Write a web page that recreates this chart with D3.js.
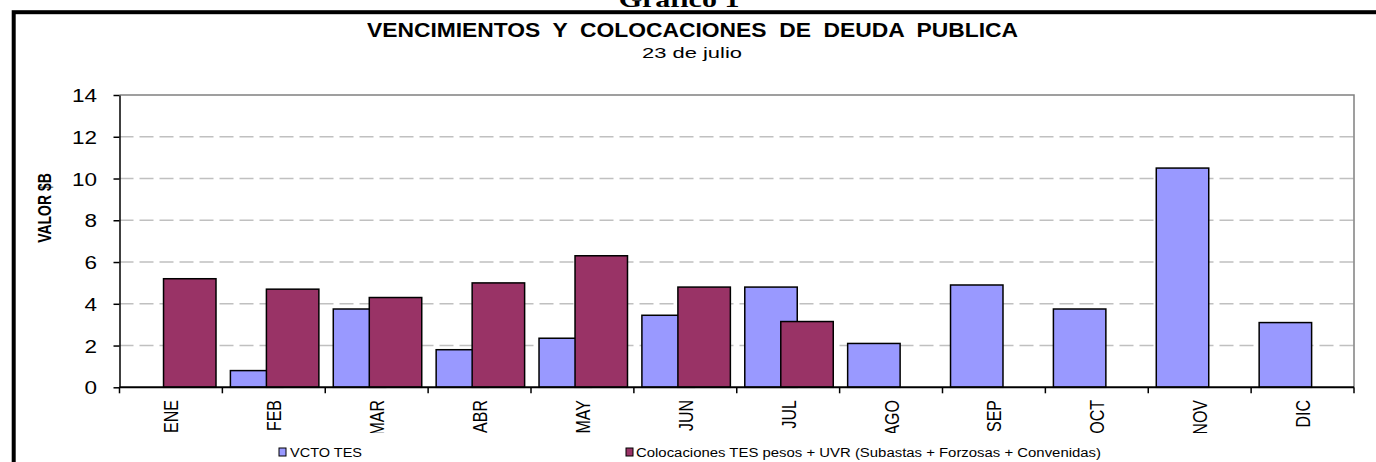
<!DOCTYPE html>
<html>
<head>
<meta charset="utf-8">
<script src="https://cdn.jsdelivr.net/npm/d3@7"></script>
<style>
  html, body { margin: 0; padding: 0; background: #fff; }
  svg { display: block; font-family: "Liberation Sans", Arial, sans-serif; }
</style>
</head>
<body>
<svg id="chart" width="1376" height="462"></svg>
<script>
// Monthly public-debt maturities and placements (billions of pesos)
const months = ["ENE", "FEB", "MAR", "ABR", "MAY", "JUN", "JUL", "AGO", "SEP", "OCT", "NOV", "DIC"];
const vctoTes = [null, 0.8, 3.75, 1.8, 2.35, 3.45, 4.8, 2.1, 4.9, 3.75, 10.5, 3.1];
const colocaciones = [5.2, 4.7, 4.3, 5.0, 6.3, 4.8, 3.15, null, null, null, null, null];
const yTicks = [0, 2, 4, 6, 8, 10, 12, 14];
const seriesNames = ["VCTO TES", "Colocaciones TES pesos + UVR (Subastas + Forzosas + Convenidas)"];

const svg = d3.select("#chart");
const plot = { left: 119.5, right: 1354, top: 95, bottom: 387.3 };
const sx = 1.27; // horizontal stretch of the lettering

const x = d3.scaleBand().domain(months).range([plot.left, plot.right]).paddingInner(0).paddingOuter(0);
const y = d3.scaleLinear().domain([0, 14]).range([plot.bottom, plot.top]);
const bw = x.bandwidth();
const barW = bw * 0.51;

// outer frame
svg.append("rect")
  .attr("x", 13.7).attr("y", 12.2)
  .attr("width", 1400).attr("height", 500)
  .attr("fill", "none").attr("stroke", "#000").attr("stroke-width", 4);

// figure caption above the frame
svg.append("text")
  .attr("transform", `translate(679,6.5) scale(1.25,1)`)
  .attr("text-anchor", "middle")
  .style("font-family", "'Liberation Serif', 'Times New Roman', serif")
  .style("font-weight", "bold")
  .style("font-size", "24px")
  .text("Gráfico 1");

// titles
svg.append("text")
  .attr("x", 367).attr("y", 37)
  .attr("textLength", 651).attr("lengthAdjust", "spacingAndGlyphs")
  .style("white-space", "pre")
  .style("font-weight", "bold").style("font-size", "20px")
  .text("VENCIMIENTOS  Y  COLOCACIONES  DE  DEUDA  PUBLICA");
svg.append("text")
  .attr("x", 642).attr("y", 57.5)
  .attr("textLength", 100).attr("lengthAdjust", "spacingAndGlyphs")
  .style("font-size", "15.5px")
  .text("23 de julio");

// dashed gridlines
svg.append("g").selectAll("line")
  .data(yTicks.filter(t => t > 0 && t < 14))
  .join("line")
  .attr("x1", plot.left).attr("x2", plot.right)
  .attr("y1", d => y(d)).attr("y2", d => y(d))
  .attr("stroke", "#c0c0c0").attr("stroke-width", 1.5)
  .attr("stroke-dasharray", "14,6");

// plot-area border (top and right)
svg.append("path")
  .attr("d", `M${plot.left},${y(14)}H${plot.right}V${plot.bottom}`)
  .attr("fill", "none").attr("stroke", "#808080").attr("stroke-width", 1.5);

// bars: maturities first, placements drawn over them
svg.append("g").selectAll("rect")
  .data(months.map((m, i) => ({ m, v: vctoTes[i] })).filter(d => d.v != null))
  .join("rect")
  .attr("x", d => x(d.m) + bw * 0.078)
  .attr("y", d => y(d.v))
  .attr("width", barW)
  .attr("height", d => y(0) - y(d.v))
  .attr("fill", "#9999ff").attr("stroke", "#000").attr("stroke-width", 1.5);

svg.append("g").selectAll("rect")
  .data(months.map((m, i) => ({ m, v: colocaciones[i] })).filter(d => d.v != null))
  .join("rect")
  .attr("x", d => x(d.m) + bw * 0.428)
  .attr("y", d => y(d.v))
  .attr("width", barW)
  .attr("height", d => y(0) - y(d.v))
  .attr("fill", "#993366").attr("stroke", "#000").attr("stroke-width", 1.5);

// y axis
const yAxis = svg.append("g")
  .attr("transform", `translate(${plot.left},0)`)
  .call(d3.axisLeft(y).tickValues(yTicks).tickSize(6).tickSizeOuter(0).tickFormat(d3.format("d")));
yAxis.select(".domain").attr("stroke", "#000").attr("stroke-width", 1.5);
yAxis.selectAll(".tick line").attr("stroke", "#000").attr("stroke-width", 1.5);
yAxis.selectAll(".tick text")
  .attr("x", null).attr("dy", null)
  .attr("transform", `translate(-22.5,0) scale(1.25,1)`)
  .attr("dy", "0.36em")
  .attr("fill", "#000")
  .style("font-size", "18px").style("font-family", "'Liberation Sans', Arial, sans-serif");

// y axis title
svg.append("text")
  .attr("transform", `translate(45,208) scale(1.25,1) rotate(-90)`)
  .attr("text-anchor", "middle").attr("dy", "0.36em")
  .style("font-weight", "bold").style("font-size", "14px")
  .text("VALOR $B");

// x axis: ticks on band boundaries
const xAxisG = svg.append("g");
xAxisG.append("line")
  .attr("x1", plot.left).attr("x2", plot.right)
  .attr("y1", plot.bottom).attr("y2", plot.bottom)
  .attr("stroke", "#000").attr("stroke-width", 2);
xAxisG.selectAll("line.tk")
  .data(months.map(m => x(m)).concat([plot.right]))
  .join("line").attr("class", "tk")
  .attr("x1", d => d).attr("x2", d => d)
  .attr("y1", plot.bottom).attr("y2", plot.bottom + 6)
  .attr("stroke", "#000").attr("stroke-width", 1.5);

// month labels, rotated, clipped to the label strip
svg.append("defs").append("clipPath").attr("id", "labelClip")
  .append("rect").attr("x", 0).attr("y", 390).attr("width", 1376).attr("height", 43);
xAxisG.append("g").attr("clip-path", "url(#labelClip)")
  .selectAll("text")
  .data(months)
  .join("text")
  .attr("transform", d => `translate(${x(d) + bw / 2},400) scale(1.3,1) rotate(-90)`)
  .attr("text-anchor", "end").attr("dy", "0.36em")
  .style("font-size", "16px")
  .text(d => d);

// legend
const legend = svg.append("g");
const legendItems = [
  { name: seriesNames[0], color: "#9999ff", sw: 279, tx: 290, tw: 72 },
  { name: seriesNames[1], color: "#993366", sw: 626, tx: 636, tw: 465 }
];
legendItems.forEach(it => {
  legend.append("rect")
    .attr("x", it.sw).attr("y", 448).attr("width", 7).attr("height", 8)
    .attr("fill", it.color).attr("stroke", "#000").attr("stroke-width", 1);
  legend.append("text")
    .attr("x", it.tx).attr("y", 457)
    .attr("textLength", it.tw).attr("lengthAdjust", "spacingAndGlyphs")
    .style("font-size", "12px")
    .text(it.name);
});
</script>
</body>
</html>
